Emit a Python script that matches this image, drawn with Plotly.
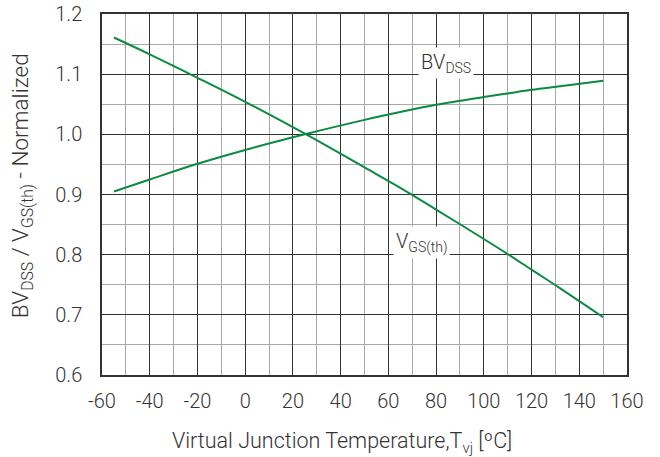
import plotly.graph_objects as go

temp = [-55, -40, -20, 0, 25, 50, 65, 80, 100, 110, 120, 132, 150]
vgs_th = [1.161, 1.133, 1.094, 1.054, 1.001, 0.945, 0.911, 0.875, 0.826, 0.801, 0.775, 0.744, 0.696]
bv_dss = [0.905, 0.925, 0.951, 0.974, 1.000, 1.024, 1.037, 1.049, 1.062, 1.068, 1.074, 1.080, 1.089]

x_ticks = list(range(-60, 161, 20))
y_ticks = [0.6, 0.7, 0.8, 0.9, 1.0, 1.1, 1.2]
y_labels = ["0.6", "0.7", "0.8", "0.9", "1.0", "1.1", "1.2"]

green = "#0b8a43"
txt = "#333333"
font_family = "Roboto, 'Liberation Sans', Arial, sans-serif"

fig = go.Figure()
fig.add_trace(go.Scatter(x=temp, y=vgs_th, mode="lines",
                         line=dict(color=green, width=2), line_shape="spline",
                         showlegend=False))
fig.add_trace(go.Scatter(x=temp, y=bv_dss, mode="lines",
                         line=dict(color=green, width=2), line_shape="spline",
                         showlegend=False))

fig.add_annotation(x=84, y=1.118, text="BV<sub>DSS</sub>", showarrow=False,
                   bgcolor="white", borderpad=2,
                   font=dict(family=font_family, size=20, color=txt, weight=300))
fig.add_annotation(x=74, y=0.820, text="V<sub>GS(th)</sub>", showarrow=False,
                   bgcolor="white", borderpad=2,
                   font=dict(family=font_family, size=20, color=txt, weight=300))

# axis titles
fig.add_annotation(xref="paper", yref="paper", x=0.457, y=-0.188,
                   text="Virtual Junction Temperature,T<sub>vj</sub> [ºC]",
                   showarrow=False, xanchor="center", yanchor="middle",
                   font=dict(family=font_family, size=21.5, color=txt, weight=300))
fig.add_annotation(xref="paper", yref="paper", x=-0.152, y=0.5235,
                   text="BV<sub>DSS</sub> / V<sub>GS(th)</sub> - Normalized",
                   showarrow=False, xanchor="center", yanchor="middle", textangle=-90,
                   font=dict(family=font_family, size=22.5, color=txt, weight=300))

fig.update_layout(
    width=660, height=457,
    margin=dict(l=102, r=33, t=14, b=82),
    paper_bgcolor="white", plot_bgcolor="white",
    font=dict(family=font_family, size=20, color=txt, weight=300),
    xaxis=dict(
        range=[-60, 160], tickvals=x_ticks, ticktext=[str(v) for v in x_ticks],
        showgrid=True, gridcolor="#333333", gridwidth=1,
        minor=dict(dtick=10, tick0=-60, showgrid=True, gridcolor="#a8a8a8", gridwidth=1),
        showline=True, mirror=True, linecolor="#333333", linewidth=1.5,
        ticks="outside", ticklen=7, tickcolor="rgba(0,0,0,0)",
        zeroline=False, automargin=False,
    ),
    yaxis=dict(
        range=[0.6, 1.2], tickvals=y_ticks, ticktext=y_labels,
        showgrid=True, gridcolor="#333333", gridwidth=1,
        minor=dict(dtick=0.05, tick0=0.6, showgrid=True, gridcolor="#a8a8a8", gridwidth=1),
        showline=True, mirror=True, linecolor="#333333", linewidth=1.5,
        ticks="outside", ticklen=14, tickcolor="rgba(0,0,0,0)",
        zeroline=False, automargin=False,
    ),
)

fig.write_html("out.html", config={"displayModeBar": False},
               post_script="document.body.style.margin='0';document.body.style.padding='0';")
